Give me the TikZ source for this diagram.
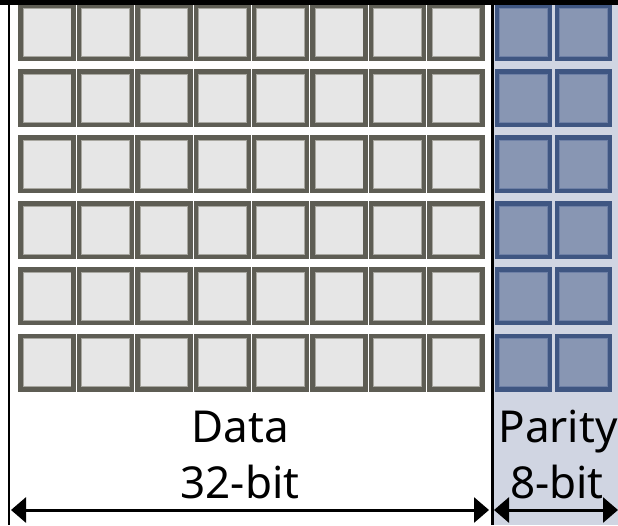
\documentclass[tikz,border=0pt]{standalone}
\usepackage{fontspec}
\setmainfont{Noto Sans}
\usetikzlibrary{arrows.meta}
\definecolor{datafill}{HTML}{E6E6E6}
\definecolor{databorder}{HTML}{5E5D54}
\definecolor{datainner}{HTML}{A8A7A0}
\definecolor{parbg}{HTML}{D0D5E2}
\definecolor{parfill}{HTML}{8896B3}
\definecolor{parborder}{HTML}{3F5682}
\definecolor{parinner}{HTML}{6E80A6}
\tikzset{
  cellbase/.style={rectangle, inner sep=0pt, line width=4.5pt,
    minimum width=53pt, minimum height=53.5pt},
  datacell/.style={cellbase, draw=databorder, fill=datafill,
    path picture={\draw[datainner,line width=0.8pt]
      ([shift={(2.65pt,-2.65pt)}]path picture bounding box.north west) rectangle
      ([shift={(-2.65pt,2.65pt)}]path picture bounding box.south east);}},
  parcell/.style={cellbase, draw=parborder, fill=parfill,
    path picture={\draw[parinner,line width=0.8pt]
      ([shift={(2.65pt,-2.65pt)}]path picture bounding box.north west) rectangle
      ([shift={(-2.65pt,2.65pt)}]path picture bounding box.south east);}},
  lbl/.style={anchor=base, inner sep=0pt, font=\fontsize{44}{56}\selectfont},
  dimarrow/.style={line width=3pt, {Triangle[length=15pt,width=25pt]}-{Triangle[length=15pt,width=25pt]}}
}
\begin{document}
\begin{tikzpicture}[x=1pt,y=-1pt]
\useasboundingbox (0,0) rectangle (618,525);
% parity background
\fill[parbg] (494,0) rectangle (618,525);
% cells
\foreach \i in {0,...,5}{
  \foreach \j in {0,...,7}{
    \node[datacell] (d\i\j) at ({18.3+58.4*\j+28.75},{3+66.1*\i+29}) {};
  }
  \foreach \j in {0,1}{
    \node[parcell] (p\i\j) at ({495+60*\j+28.5},{3+66.1*\i+29}) {};
  }
}
% top bar and vertical lines
\fill[black] (0,0) rectangle (618,4.7);
\draw[line width=2pt] (9,0) -- (9,525);
\draw[line width=3pt] (492.5,0) -- (492.5,525);
% labels
\node[lbl] (data) at (240,442.7) {Data};
\node[lbl] (dbits) at (240,498.7) {32-bit};
\node[lbl] (par) at (558,442.7) {Parity};
\node[lbl] (pbits) at (557,498.7) {8-bit};
% dimension arrows
\coordinate (a1) at (11,510);
\coordinate (a2) at (489,510);
\coordinate (b1) at (494,510);
\coordinate (b2) at (618,510);
\draw[dimarrow] (a1) -- (a2);
\draw[dimarrow] (b1) -- (b2);
\end{tikzpicture}
\end{document}
